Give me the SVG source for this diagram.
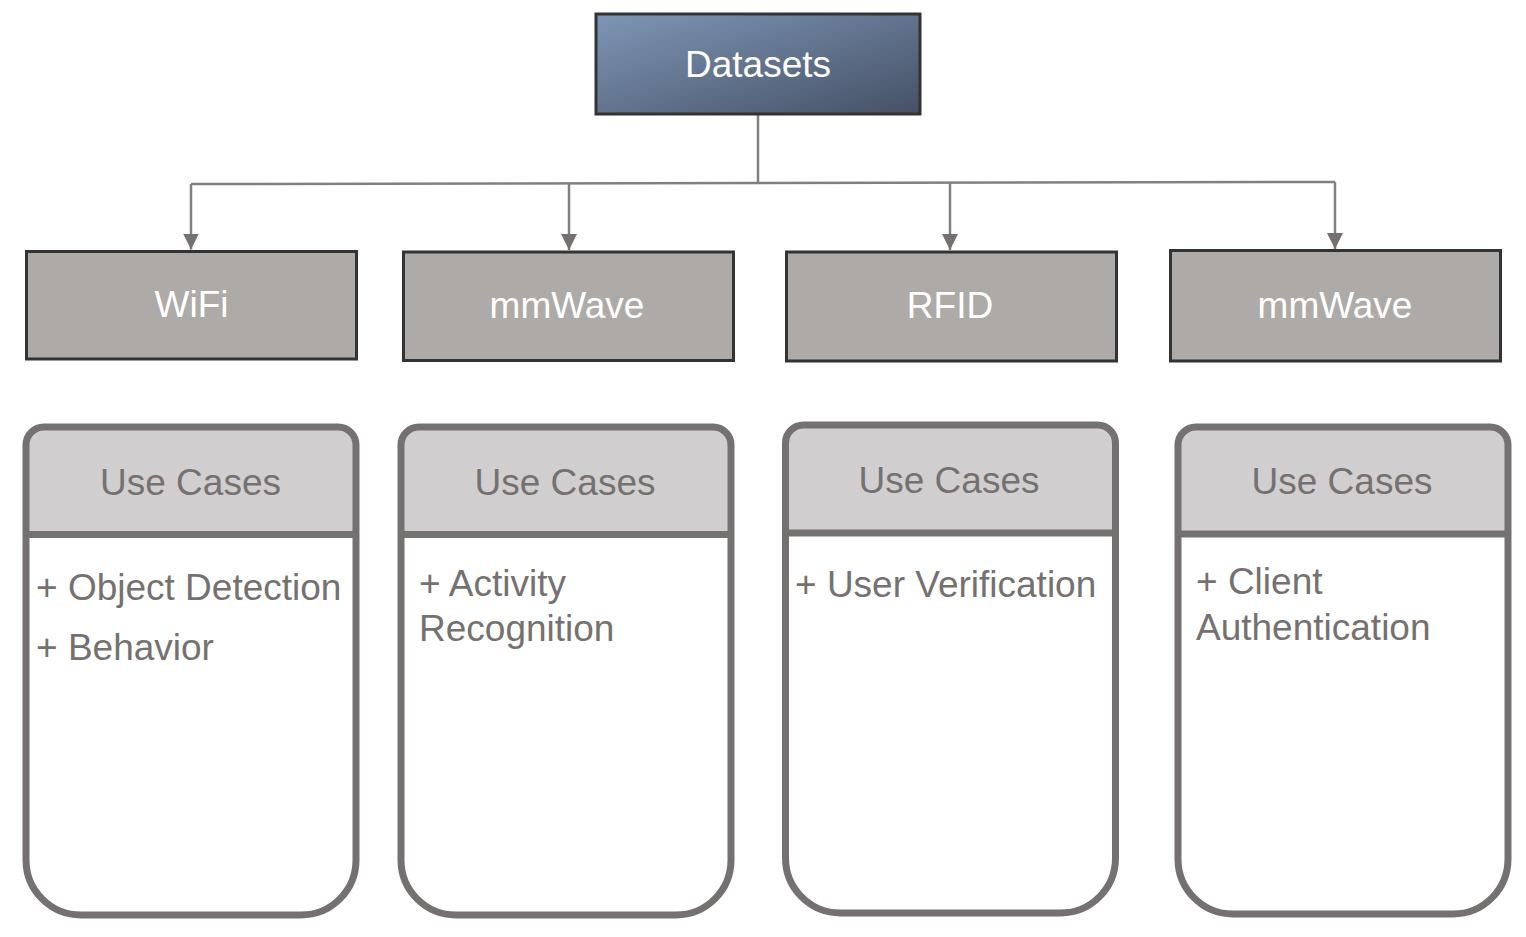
<svg xmlns="http://www.w3.org/2000/svg" width="1526" height="937" viewBox="0 0 1526 937">
<style>
text{font-family:"Liberation Sans",Arial,sans-serif;font-size:37px}
.top{fill:#aeaaa8;stroke:#333333;stroke-width:3}
.wt{fill:#ffffff;text-anchor:middle}
.hdr{fill:#d0cecf}
.body{fill:#ffffff}
.outl{fill:none;stroke:#757170;stroke-width:7}
.sep{stroke:#757170;stroke-width:7}
.gt{fill:#757170}
.gc{fill:#757170;text-anchor:middle}
.conn{fill:none;stroke:#808080;stroke-width:2.5}
</style>
<defs>
<linearGradient id="gDs" x1="0" y1="0" x2="1" y2="1">
<stop offset="0" stop-color="#7f96b6"/>
<stop offset="1" stop-color="#455166"/>
</linearGradient>
<marker id="arr" viewBox="0 0 16 16" refX="16" refY="8" markerWidth="16" markerHeight="16" markerUnits="userSpaceOnUse" orient="auto">
<path d="M0,0 L16,8 L0,16 Z" fill="#757170"/>
</marker>
</defs>
<g id="connectors">
<path class="conn" d="M758,115 V183"/>
<path class="conn" d="M191,184 L1335,182"/>
<path class="conn" d="M191,184 V249.5" marker-end="url(#arr)"/>
<path class="conn" d="M569,183.5 V250" marker-end="url(#arr)"/>
<path class="conn" d="M950,183 V250" marker-end="url(#arr)"/>
<path class="conn" d="M1335,182 V249" marker-end="url(#arr)"/>
</g>
<g id="datasets">
<rect x="596" y="14" width="324" height="100" fill="url(#gDs)" stroke="#333333" stroke-width="3"/>
<text class="wt" x="758" y="77">Datasets</text>
</g>
<g id="wifi">
<rect class="top" x="26.5" y="251.5" width="330" height="107.5"/>
<text class="wt" x="191.5" y="317">WiFi</text>
</g>
<g id="mmwave1">
<rect class="top" x="403.5" y="252" width="330" height="108.5"/>
<text class="wt" x="567" y="318">mmWave</text>
</g>
<g id="rfid">
<rect class="top" x="786.5" y="252" width="330" height="109"/>
<text class="wt" x="950" y="318">RFID</text>
</g>
<g id="mmwave2">
<rect class="top" x="1170.5" y="250.5" width="330" height="110.5"/>
<text class="wt" x="1335" y="318">mmWave</text>
</g>
<g id="uc1">
<path class="hdr" d="M44,427 H338 A18,18 0 0 1 356,445 V534 H26 V445 A18,18 0 0 1 44,427 Z"/>
<path class="body" d="M26,534 H356 V860 A55,55 0 0 1 301,915 H81 A55,55 0 0 1 26,860 Z"/>
<path class="outl" d="M44,427 H338 A18,18 0 0 1 356,445 V860 A55,55 0 0 1 301,915 H81 A55,55 0 0 1 26,860 V445 A18,18 0 0 1 44,427 Z"/>
<line class="sep" x1="26" y1="534.5" x2="356" y2="534.5"/>
<text class="gc" x="190.5" y="495">Use Cases</text>
<text class="gt" x="36" y="600">+ Object Detection</text>
<text class="gt" x="36" y="660">+ Behavior</text>
</g>
<g id="uc2">
<path class="hdr" d="M419,427 H713 A18,18 0 0 1 731,445 V534 H401 V445 A18,18 0 0 1 419,427 Z"/>
<path class="body" d="M401,534 H731 V860 A55,55 0 0 1 676,915 H456 A55,55 0 0 1 401,860 Z"/>
<path class="outl" d="M419,427 H713 A18,18 0 0 1 731,445 V860 A55,55 0 0 1 676,915 H456 A55,55 0 0 1 401,860 V445 A18,18 0 0 1 419,427 Z"/>
<line class="sep" x1="401" y1="534.5" x2="731" y2="534.5"/>
<text class="gc" x="565" y="495">Use Cases</text>
<text class="gt" x="419" y="596">+ Activity</text>
<text class="gt" x="419" y="641">Recognition</text>
</g>
<g id="uc3">
<path class="hdr" d="M803.5,425 H1097.5 A18,18 0 0 1 1115.5,443 V533 H785.5 V443 A18,18 0 0 1 803.5,425 Z"/>
<path class="body" d="M785.5,533 H1115.5 V858 A55,55 0 0 1 1060.5,913 H840.5 A55,55 0 0 1 785.5,858 Z"/>
<path class="outl" d="M803.5,425 H1097.5 A18,18 0 0 1 1115.5,443 V858 A55,55 0 0 1 1060.5,913 H840.5 A55,55 0 0 1 785.5,858 V443 A18,18 0 0 1 803.5,425 Z"/>
<line class="sep" x1="785.5" y1="533" x2="1115.5" y2="533"/>
<text class="gc" x="949" y="493">Use Cases</text>
<text class="gt" x="795" y="597">+ User Verification</text>
</g>
<g id="uc4">
<path class="hdr" d="M1196,427 H1490 A18,18 0 0 1 1508,445 V534 H1178 V445 A18,18 0 0 1 1196,427 Z"/>
<path class="body" d="M1178,534 H1508 V859 A55,55 0 0 1 1453,914 H1233 A55,55 0 0 1 1178,859 Z"/>
<path class="outl" d="M1196,427 H1490 A18,18 0 0 1 1508,445 V859 A55,55 0 0 1 1453,914 H1233 A55,55 0 0 1 1178,859 V445 A18,18 0 0 1 1196,427 Z"/>
<line class="sep" x1="1178" y1="534" x2="1508" y2="534"/>
<text class="gc" x="1342" y="494">Use Cases</text>
<text class="gt" x="1196" y="594">+ Client</text>
<text class="gt" x="1196" y="640">Authentication</text>
</g>
</svg>
